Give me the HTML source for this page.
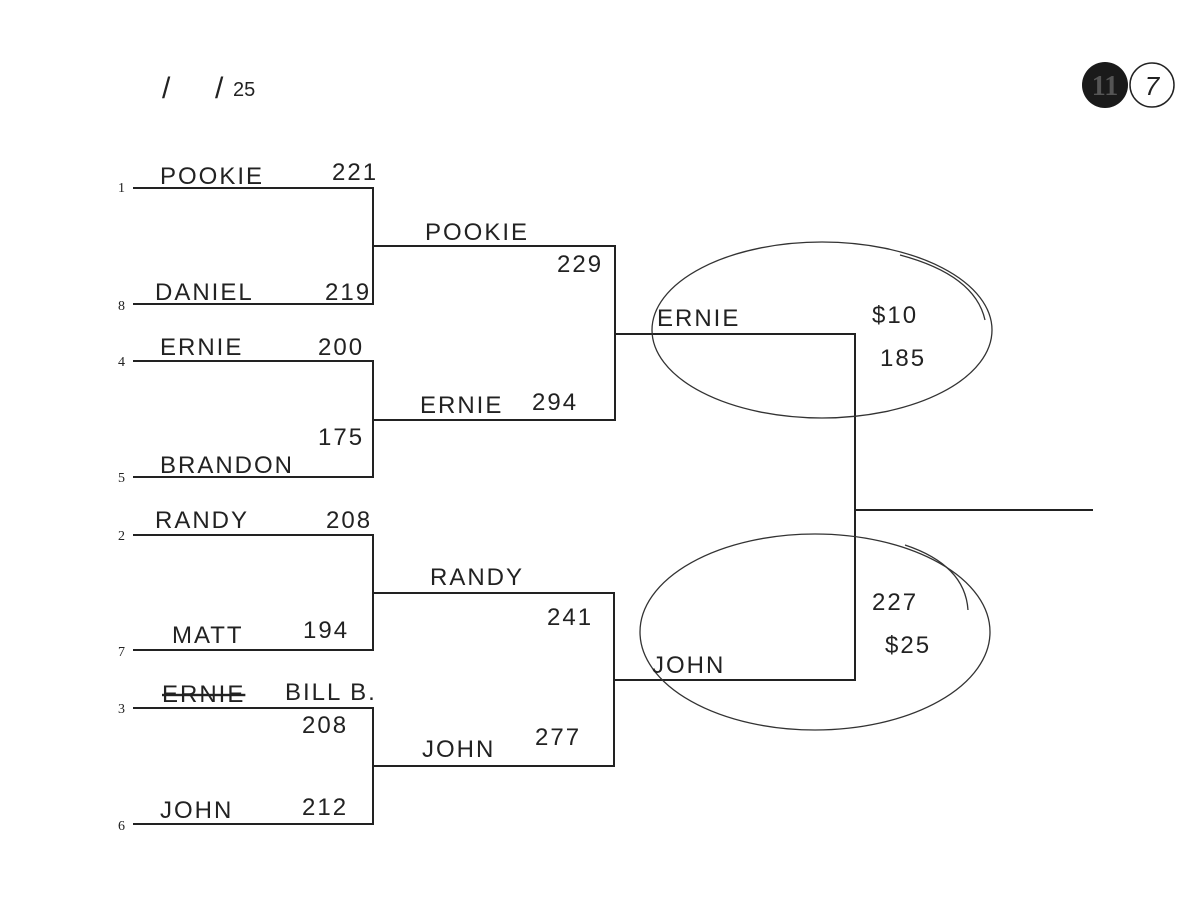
<!DOCTYPE html>
<html><head><meta charset="utf-8"><style>
html,body{margin:0;padding:0;background:#fff;}
svg{display:block}
.h{font-family:"Liberation Sans",sans-serif;font-size:24px;fill:#222;letter-spacing:2px}
.s{font-family:"Liberation Serif",serif;font-size:14px;fill:#222}
</style></head><body>
<svg width="1200" height="919" viewBox="0 0 1200 919" xmlns="http://www.w3.org/2000/svg">
<rect width="1200" height="919" fill="#fff"/>
<g stroke="#222" stroke-width="2" fill="none">
<path d="M133 188H373V304H133"/>
<path d="M133 361H373V477H133"/>
<path d="M133 535H373V650H133"/>
<path d="M133 708H373V824H133"/>
<path d="M373 246H615V420H373"/>
<path d="M373 593H614V766H373"/>
<path d="M615 334H855V680H615"/>
<path d="M855 510H1093"/>
</g>
<g stroke="#333" stroke-width="1.3" fill="none">
<ellipse cx="822" cy="330" rx="170" ry="88"/>
<path d="M900 255 Q975 275 985 320"/>
<ellipse cx="815" cy="632" rx="175" ry="98"/>
<path d="M905 545 Q965 565 968 610"/>
</g>
<g class="s">
<text x="118" y="192">1</text><text x="118" y="310">8</text>
<text x="118" y="366">4</text><text x="118" y="482">5</text>
<text x="118" y="540">2</text><text x="118" y="656">7</text>
<text x="118" y="713">3</text><text x="118" y="830">6</text>
</g>
<text x="162" y="98" font-family="Liberation Sans,sans-serif" font-size="30" fill="#222">/</text>
<text x="215" y="98" font-family="Liberation Sans,sans-serif" font-size="30" fill="#222">/</text>
<text x="233" y="96" font-family="Liberation Sans,sans-serif" font-size="20" fill="#222">25</text>
<circle cx="1105" cy="85" r="23" fill="#1a1a1a"/>
<text x="1105" y="95" text-anchor="middle" font-family="Liberation Serif,serif" font-weight="bold" font-size="28" fill="#555">11</text>
<circle cx="1152" cy="85" r="22" fill="none" stroke="#222" stroke-width="1.5"/>
<text x="1152" y="95" text-anchor="middle" font-family="Liberation Sans,sans-serif" font-style="italic" font-size="26" fill="#222">7</text>
<g class="h">
<text x="160" y="184">POOKIE</text><text x="332" y="180">221</text>
<text x="155" y="300">DANIEL</text><text x="325" y="300">219</text>
<text x="160" y="355">ERNIE</text><text x="318" y="355">200</text>
<text x="318" y="445">175</text><text x="160" y="473">BRANDON</text>
<text x="155" y="528">RANDY</text><text x="326" y="528">208</text>
<text x="172" y="643">MATT</text><text x="303" y="638">194</text>
<text x="162" y="702" text-decoration="line-through">ERNIE</text><text x="285" y="700">BILL B.</text>
<text x="302" y="733">208</text>
<text x="160" y="818">JOHN</text><text x="302" y="815">212</text>
<text x="425" y="240">POOKIE</text><text x="557" y="272">229</text>
<text x="420" y="413">ERNIE</text><text x="532" y="410">294</text>
<text x="430" y="585">RANDY</text><text x="547" y="625">241</text>
<text x="422" y="757">JOHN</text><text x="535" y="745">277</text>
<text x="657" y="326">ERNIE</text>
<text x="652" y="673">JOHN</text>
<text x="872" y="323">$10</text><text x="880" y="366">185</text>
<text x="872" y="610">227</text><text x="885" y="653">$25</text>
</g>
</svg>
</body></html>
